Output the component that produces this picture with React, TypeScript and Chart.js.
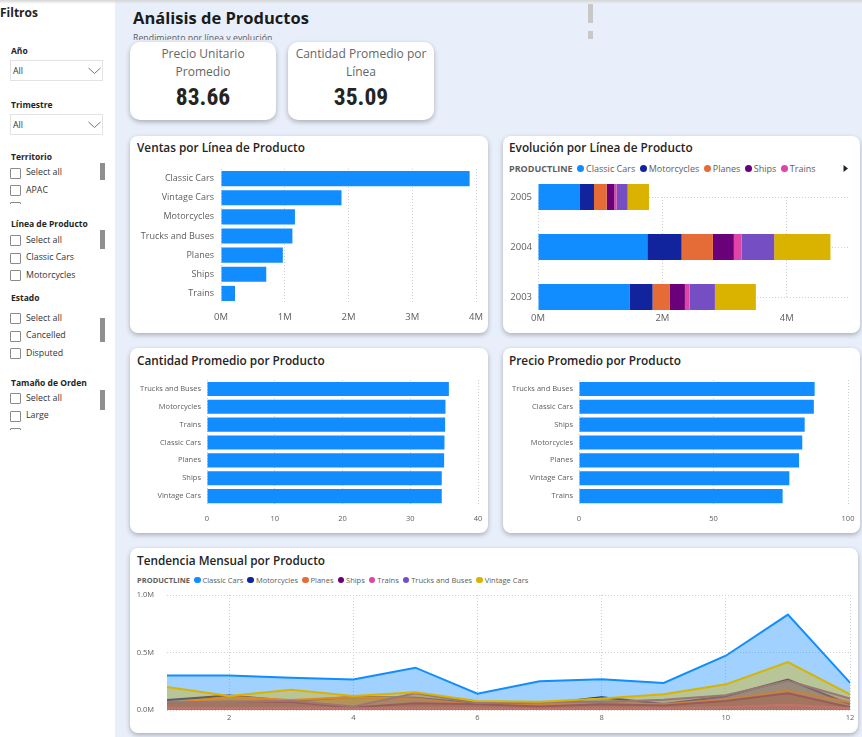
import React, { useEffect, useRef } from 'react';
import { Chart, registerables } from 'chart.js';

Chart.register(...registerables);

const FONT = "'Open Sans', 'Noto Sans', sans-serif";
Chart.defaults.font.family = FONT;
Chart.defaults.color = '#605E5C';

// Product lines and their report colours
const productLines = ['Classic Cars', 'Motorcycles', 'Planes', 'Ships', 'Trains', 'Trucks and Buses', 'Vintage Cars'];
const lineColors = ['#118DFF', '#12239E', '#E66C37', '#6B007B', '#E044A7', '#744EC2', '#D9B300'];

// KPI cards
const kpiPrecioUnitario = '83.66';
const kpiCantidadPromedio = '35.09';

// Ventas por Línea de Producto (millions)
const salesCategories = ['Classic Cars', 'Vintage Cars', 'Motorcycles', 'Trucks and Buses', 'Planes', 'Ships', 'Trains'];
const salesValues = [3.9, 1.89, 1.16, 1.12, 0.97, 0.71, 0.22];
const salesTicks = [0, 1, 2, 3, 4];

// Evolución por Línea de Producto (millions per year)
const years = ['2005', '2004', '2003'];
const evoClassicCars = [0.675, 1.757, 1.478];
const evoMotorcycles = [0.225, 0.552, 0.364];
const evoPlanes = [0.204, 0.503, 0.279];
const evoShips = [0.123, 0.337, 0.241];
const evoTrains = [0.037, 0.123, 0.075];
const evoTrucksBuses = [0.177, 0.525, 0.407];
const evoVintageCars = [0.343, 0.905, 0.659];
const evoSeries = [evoClassicCars, evoMotorcycles, evoPlanes, evoShips, evoTrains, evoTrucksBuses, evoVintageCars];
const evoTicks = [0, 2, 4];

// Cantidad Promedio por Producto
const qtyCategories = ['Trucks and Buses', 'Motorcycles', 'Trains', 'Classic Cars', 'Planes', 'Ships', 'Vintage Cars'];
const qtyValues = [35.7, 35.2, 35.15, 35.05, 35.0, 34.65, 34.65];
const qtyTicks = [0, 10, 20, 30, 40];

// Precio Promedio por Producto
const priceCategories = ['Trucks and Buses', 'Classic Cars', 'Ships', 'Motorcycles', 'Planes', 'Vintage Cars', 'Trains'];
const priceValues = [87.6, 87.3, 83.9, 83.0, 81.8, 78.2, 75.7];
const priceTicks = [0, 50, 100];

// Tendencia Mensual por Producto (millions per month)
const months = [1, 2, 3, 4, 5, 6, 7, 8, 9, 10, 11, 12];
const monthClassicCars = [0.3, 0.3, 0.28, 0.265, 0.368, 0.142, 0.249, 0.267, 0.235, 0.472, 0.829, 0.238];
const monthMotorcycles = [0.086, 0.125, 0.078, 0.114, 0.107, 0.056, 0.05, 0.11, 0.052, 0.12, 0.264, 0.05];
const monthPlanes = [0.055, 0.116, 0.087, 0.112, 0.1, 0.046, 0.05, 0.06, 0.05, 0.093, 0.171, 0.067];
const monthShips = [0.067, 0.072, 0.07, 0.022, 0.058, 0.05, 0.03, 0.05, 0.04, 0.078, 0.145, 0.023];
const monthTrains = [0.02, 0.015, 0.02, 0.015, 0.02, 0.015, 0.01, 0.015, 0.015, 0.025, 0.045, 0.015];
const monthTrucksBuses = [0.07, 0.07, 0.08, 0.03, 0.145, 0.06, 0.07, 0.07, 0.09, 0.128, 0.255, 0.1];
const monthVintageCars = [0.2, 0.122, 0.177, 0.122, 0.154, 0.078, 0.072, 0.101, 0.136, 0.223, 0.417, 0.136];
const monthSeries = [monthClassicCars, monthMotorcycles, monthPlanes, monthShips, monthTrains, monthTrucksBuses, monthVintageCars];
const monthTicks = [2, 4, 6, 8, 10, 12];
const monthValueTicks = [0, 0.5, 1];

const GRID = '#CFCFCF';
const TICK = '#605E5C';
const TITLE = '#252423';

const withAlpha = (hex: string, a: number) => {
  const n = parseInt(hex.slice(1), 16);
  return `rgba(${(n >> 16) & 255},${(n >> 8) & 255},${n & 255},${a})`;
};

const fixedTicks = (vals: number[]) => (scale: any) => {
  scale.ticks = vals.map((v) => ({ value: v }));
};

// Pin an axis to a fixed thickness and drop its label overhang so the
// layout padding alone decides where the plot area sits.
const pinAxis = (size: number) => (s: any) => {
  if (s.isHorizontal()) s.height = size;
  else s.width = size;
  s.paddingTop = 0;
  s.paddingBottom = 0;
  s.paddingLeft = 0;
  s.paddingRight = 0;
};

function ChartCanvas({ left, top, width, height, build }: any) {
  const ref = useRef<HTMLCanvasElement>(null);
  useEffect(() => {
    const chart = new Chart(ref.current as HTMLCanvasElement, build());
    return () => chart.destroy();
  }, []);
  return (
    <canvas
      ref={ref}
      width={width}
      height={height}
      style={{ position: 'absolute', left, top, width, height }}
    />
  );
}

function Txt({ x, cy, size, weight = 400, color = TITLE, children, family = FONT }: any) {
  const lh = Math.round(size * 1.5);
  return (
    <div
      style={{
        position: 'absolute',
        left: x,
        top: cy - lh / 2,
        height: lh,
        lineHeight: lh + 'px',
        fontSize: size,
        fontWeight: weight,
        color,
        whiteSpace: 'nowrap',
        fontFamily: family,
      }}
    >
      {children}
    </div>
  );
}

function Card({ left, top, width, height, radius = 8, children }: any) {
  return (
    <div
      style={{
        position: 'absolute',
        left,
        top,
        width,
        height,
        background: '#fff',
        borderRadius: radius,
        boxShadow: '0 2px 5px rgba(0,0,0,0.28)',
      }}
    >
      {children}
    </div>
  );
}

function Legend({ left, cy, size, items, gap, dot }: any) {
  return (
    <div
      style={{
        position: 'absolute',
        left,
        top: cy - 8,
        height: 16,
        display: 'flex',
        alignItems: 'center',
        fontFamily: FONT,
        fontSize: size,
        color: TICK,
        whiteSpace: 'nowrap',
      }}
    >
      <span style={{ fontWeight: 700, marginRight: gap }}>PRODUCTLINE</span>
      {items.map((n: string) => (
        <span key={n} style={{ display: 'flex', alignItems: 'center', marginRight: gap }}>
          <span
            style={{
              width: dot,
              height: dot,
              borderRadius: '50%',
              background: lineColors[productLines.indexOf(n)],
              marginRight: 2,
            }}
          />
          {n}
        </span>
      ))}
    </div>
  );
}

function Checkbox({ cy, label }: any) {
  return (
    <>
      <div
        style={{
          position: 'absolute',
          left: 10,
          top: cy - 5,
          width: 9,
          height: 9,
          border: '1px solid #8a8a8a',
          borderRadius: 1,
          background: '#fff',
        }}
      />
      {label ? (
        <Txt x={26} cy={cy} size={8.8} color="#333">
          {label}
        </Txt>
      ) : null}
    </>
  );
}

// A slicer list; the row cut off by the list's bottom edge shows only its box.
function CheckList({ top, bottom, items, startCy, step }: any) {
  return (
    <div style={{ position: 'absolute', left: 0, top, width: 98, height: bottom - top, overflow: 'hidden' }}>
      {items.map((t: string, i: number) => (
        <Checkbox key={t + i} cy={startCy - top + i * step} label={i < items.length - 1 ? t : ''} />
      ))}
    </div>
  );
}

function Dropdown({ top }: any) {
  return (
    <div
      style={{
        position: 'absolute',
        left: 10,
        top,
        width: 91,
        height: 19,
        border: '1px solid #e3e3e3',
        background: '#fff',
      }}
    >
      <Txt x={2} cy={10} size={8.8} color="#333">
        All
      </Txt>
      <svg style={{ position: 'absolute', left: 77, top: 6 }} width="13" height="8">
        <polyline points="0.5,1 6.5,6.5 12.5,1" fill="none" stroke="#777" strokeWidth="1" />
      </svg>
    </div>
  );
}

const ScrollThumb = ({ top, height }: any) => (
  <div style={{ position: 'absolute', left: 100, top, width: 5, height, background: '#8f8f8f' }} />
);

function hbarConfig(labels: string[], values: number[], ticks: number[], fmt: (v: number) => string, o: any) {
  return () => ({
    type: 'bar',
    data: {
      labels,
      datasets: [
        {
          data: values,
          backgroundColor: '#118DFF',
          barPercentage: o.bar,
          categoryPercentage: 1,
        },
      ],
    },
    options: {
      indexAxis: 'y',
      animation: false,
      responsive: false,
      events: [],
      layout: { autoPadding: false, padding: { top: o.padTop, right: o.padRight, left: 0, bottom: 0 } },
      plugins: { legend: { display: false }, tooltip: { enabled: false } },
      scales: {
        x: {
          min: ticks[0],
          max: ticks[ticks.length - 1],
          afterBuildTicks: fixedTicks(ticks),
          ticks: { color: TICK, font: { size: o.xFont }, padding: o.xPad, callback: (v: number) => fmt(v) },
          grid: { color: GRID, drawTicks: false },
          border: { display: false, dash: [1, 2] },
          afterFit: pinAxis(o.xHeight),
        },
        y: {
          ticks: { color: TICK, font: { size: o.yFont }, padding: o.yPad },
          grid: { display: false, drawTicks: false },
          border: { display: false },
          afterFit: pinAxis(o.yWidth),
        },
      },
    },
  });
}

const salesConfig = hbarConfig(salesCategories, salesValues, salesTicks, (v) => v + 'M', {
  bar: 0.79,
  padTop: 9,
  padRight: 12,
  xFont: 9.5,
  xPad: 9,
  xHeight: 25,
  yFont: 9,
  yPad: 7,
  yWidth: 91,
});

const qtyConfig = hbarConfig(qtyCategories, qtyValues, qtyTicks, (v) => String(v), {
  bar: 0.79,
  padTop: 8,
  padRight: 10,
  xFont: 7.5,
  xPad: 9,
  xHeight: 22,
  yFont: 7.5,
  yPad: 6,
  yWidth: 77,
});

const priceConfig = hbarConfig(priceCategories, priceValues, priceTicks, (v) => String(v), {
  bar: 0.79,
  padTop: 8,
  padRight: 12,
  xFont: 7.5,
  xPad: 9,
  xHeight: 22,
  yFont: 7.5,
  yPad: 6,
  yWidth: 76,
});

const evoConfig = () => ({
  type: 'bar',
  data: {
    labels: years,
    datasets: productLines.map((name, i) => ({
      label: name,
      data: evoSeries[i],
      backgroundColor: lineColors[i],
      barPercentage: 0.52,
      categoryPercentage: 1,
      clip: false,
    })),
  },
  options: {
    indexAxis: 'y',
    animation: false,
    responsive: false,
    events: [],
    layout: { autoPadding: false, padding: { top: 21, right: 11, left: 0, bottom: 0 } },
    plugins: { legend: { display: false }, tooltip: { enabled: false } },
    scales: {
      x: {
        stacked: true,
        min: 0,
        max: 5,
        afterBuildTicks: fixedTicks(evoTicks),
        ticks: { color: TICK, font: { size: 9.5 }, padding: 15.5, callback: (v: number) => v + 'M' },
        grid: { color: GRID, drawTicks: false },
        border: { display: false, dash: [1, 2] },
        afterFit: pinAxis(30),
      },
      y: {
        stacked: true,
        offset: false,
        ticks: { color: TICK, font: { size: 9.5 }, padding: 6 },
        grid: { color: GRID, drawTicks: false, offset: false },
        border: { display: false, dash: [1, 2] },
        afterFit: pinAxis(35),
      },
    },
  },
});

const trendConfig = () => ({
  type: 'line',
  data: {
    datasets: productLines.map((name, i) => ({
      label: name,
      data: monthSeries[i].map((v, j) => ({ x: months[j], y: v })),
      borderColor: lineColors[i],
      backgroundColor: withAlpha(lineColors[i], 0.4),
      fill: 'origin',
      borderWidth: 2,
      pointRadius: 0,
      pointHoverRadius: 0,
      tension: 0,
      order: productLines.length - i,
    })),
  },
  options: {
    animation: false,
    responsive: false,
    events: [],
    layout: { autoPadding: false, padding: { top: 7, right: 8, left: 0, bottom: 0 } },
    plugins: { legend: { display: false }, tooltip: { enabled: false } },
    scales: {
      x: {
        type: 'linear',
        min: 1,
        max: 12,
        afterBuildTicks: fixedTicks(monthTicks),
        ticks: { color: TICK, font: { size: 7.5 }, padding: 3 },
        grid: { color: GRID, drawTicks: false },
        border: { display: false, dash: [1, 2] },
        afterFit: pinAxis(18),
      },
      y: {
        min: 0,
        max: 1,
        afterBuildTicks: fixedTicks(monthValueTicks),
        ticks: { color: TICK, font: { size: 7.5 }, padding: 13, callback: (v: number) => v.toFixed(1) + 'M' },
        grid: { color: GRID, drawTicks: false },
        border: { display: false, dash: [1, 2] },
        afterFit: pinAxis(37),
      },
    },
  },
});

export default function App() {
  return (
    <div
      style={{
        position: 'fixed',
        left: 0,
        top: 0,
        width: 862,
        height: 737,
        overflow: 'hidden',
        background: '#E9EFFA',
        fontFamily: FONT,
      }}
    >
      {/* Filter pane */}
      <div style={{ position: 'absolute', left: 0, top: 0, width: 115, height: 737, background: '#fff' }}>
        <Txt x={0} cy={13} size={12} weight={700}>
          Filtros
        </Txt>

        <Txt x={11} cy={50.5} size={8.5} weight={700}>
          Año
        </Txt>
        <Dropdown top={60} />

        <Txt x={11} cy={104} size={8.5} weight={700}>
          Trimestre
        </Txt>
        <Dropdown top={114} />

        <Txt x={11} cy={156} size={8.5} weight={700}>
          Territorio
        </Txt>
        <CheckList top={164} bottom={203.5} items={['Select all', 'APAC', 'EMEA']} startCy={172.7} step={17.3} />
        <ScrollThumb top={163} height={17} />

        <Txt x={11} cy={223.7} size={8.5} weight={700}>
          Línea de Producto
        </Txt>
        <CheckList
          top={231}
          bottom={284}
          items={['Select all', 'Classic Cars', 'Motorcycles', 'Planes']}
          startCy={240.3}
          step={17.4}
        />
        <ScrollThumb top={230} height={19} />

        <Txt x={11} cy={297.7} size={8.5} weight={700}>
          Estado
        </Txt>
        <CheckList
          top={309}
          bottom={362}
          items={['Select all', 'Cancelled', 'Disputed', 'In Process']}
          startCy={318}
          step={17.7}
        />
        <ScrollThumb top={318} height={24} />

        <Txt x={11} cy={382} size={8.5} weight={700}>
          Tamaño de Orden
        </Txt>
        <CheckList top={390} bottom={429.5} items={['Select all', 'Large', 'Medium']} startCy={398.3} step={17.4} />
        <ScrollThumb top={390} height={20} />
      </div>

      {/* top edge shade */}
      <div
        style={{
          position: 'absolute',
          left: 0,
          top: 0,
          width: 862,
          height: 4,
          background: 'linear-gradient(#d5d5d5, rgba(213,213,213,0))',
        }}
      />

      {/* Header */}
      <Txt x={133} cy={17} size={16.5} weight={700} color="#1b1b1b">
        Análisis de Productos
      </Txt>
      <div style={{ position: 'absolute', left: 133, top: 30, width: 200, height: 10, overflow: 'hidden' }}>
        <div style={{ marginTop: 2, fontSize: 8.8, lineHeight: '12px', color: '#605E5C', whiteSpace: 'nowrap' }}>
          Rendimiento por línea y evolución
        </div>
      </div>
      <div style={{ position: 'absolute', left: 588, top: 4, width: 5, height: 19, background: '#c8c8c8' }} />
      <div style={{ position: 'absolute', left: 588, top: 31, width: 5, height: 8, background: '#c8c8c8' }} />

      {/* KPI cards */}
      <Card left={130} top={42} width={146} height={78} radius={10}>
        <div style={{ position: 'absolute', left: 0, top: 3, width: 146, textAlign: 'center', fontSize: 12, lineHeight: '17.5px', color: '#666' }}>
          Precio Unitario
          <br />
          Promedio
        </div>
        <div
          style={{
            position: 'absolute',
            left: 0,
            top: 40,
            width: 146,
            textAlign: 'center',
            fontSize: 23.5,
            lineHeight: '30px',
            fontWeight: 700,
            color: '#252423',
            fontFamily: "'Liberation Sans Narrow', 'Roboto Condensed', Roboto, sans-serif",
          }}
        >
          {kpiPrecioUnitario}
        </div>
      </Card>
      <Card left={288} top={42} width={146} height={78} radius={10}>
        <div style={{ position: 'absolute', left: 0, top: 3, width: 146, textAlign: 'center', fontSize: 12, lineHeight: '17.5px', color: '#666' }}>
          Cantidad Promedio por
          <br />
          Línea
        </div>
        <div
          style={{
            position: 'absolute',
            left: 0,
            top: 40,
            width: 146,
            textAlign: 'center',
            fontSize: 23.5,
            lineHeight: '30px',
            fontWeight: 700,
            color: '#252423',
            fontFamily: "'Liberation Sans Narrow', 'Roboto Condensed', Roboto, sans-serif",
          }}
        >
          {kpiCantidadPromedio}
        </div>
      </Card>

      {/* Chart cards */}
      <Card left={130} top={136} width={358} height={197} />
      <Card left={503} top={136} width={357} height={197} />
      <Card left={130} top={348} width={358} height={185} />
      <Card left={503} top={348} width={357} height={185} />
      <Card left={130} top={548} width={728} height={185} />

      <Txt x={137} cy={147.3} size={11.8} weight={600}>
        Ventas por Línea de Producto
      </Txt>
      <ChartCanvas left={130} top={160} width={358} height={168} build={salesConfig} />

      <Txt x={509} cy={147.3} size={11.8} weight={600}>
        Evolución por Línea de Producto
      </Txt>
      <Legend left={509} cy={168.3} size={9} items={productLines.slice(0, 5)} gap={4.5} dot={7} />
      <svg style={{ position: 'absolute', left: 843, top: 165 }} width="6" height="7">
        <polygon points="0.5,0 5,3.5 0.5,7" fill="#252423" />
      </svg>
      <ChartCanvas left={503} top={176} width={357} height={151} build={evoConfig} />

      <Txt x={137} cy={360} size={11.8} weight={600}>
        Cantidad Promedio por Producto
      </Txt>
      <ChartCanvas left={130} top={372} width={358} height={155} build={qtyConfig} />

      <Txt x={509} cy={360} size={11.8} weight={600}>
        Precio Promedio por Producto
      </Txt>
      <ChartCanvas left={503} top={372} width={357} height={155} build={priceConfig} />

      <Txt x={137} cy={560} size={11.8} weight={600}>
        Tendencia Mensual por Producto
      </Txt>
      <Legend left={137} cy={580} size={7.5} items={productLines} gap={4} dot={6.5} />
      <ChartCanvas left={130} top={588} width={728} height={140} build={trendConfig} />
    </div>
  );
}
